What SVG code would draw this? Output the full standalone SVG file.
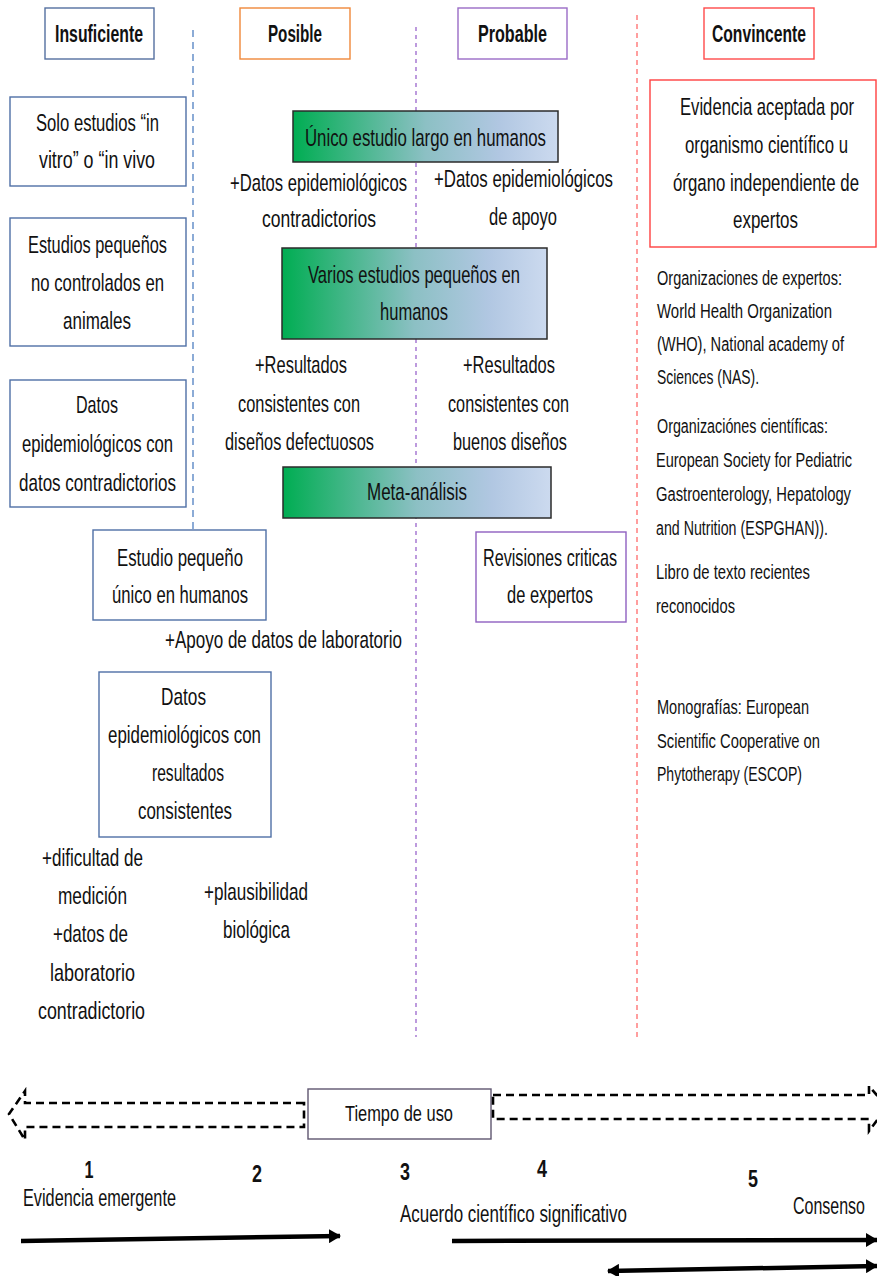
<svg xmlns="http://www.w3.org/2000/svg" width="877" height="1276" viewBox="0 0 877 1276">
<style>
text{font-family:"Liberation Sans",Arial,sans-serif;font-size:24px;fill:#111}
.h{font-weight:bold}
.s{font-size:21px}
.n{font-weight:bold;font-size:23px;text-anchor:middle}
.t{font-size:22px}
.box{fill:#fff;stroke-width:1.4}
.lb{stroke:#4f6fa6}
.grad{fill:url(#g);stroke:#2b2b2b;stroke-width:1.5}
.div{fill:none;stroke-width:1.3}
.blk{fill:none;stroke:#000;stroke-width:2.6;stroke-dasharray:8 5}
.arr{fill:none;stroke:#000;stroke-width:4.5}
</style>
<defs>
<linearGradient id="g" x1="0" y1="0" x2="1" y2="0">
<stop offset="0" stop-color="#00ad52"/>
<stop offset="0.5" stop-color="#8cc0c4"/>
<stop offset="0.78" stop-color="#b1c7e2"/>
<stop offset="1" stop-color="#ccdaef"/>
</linearGradient>
<marker id="ah" markerUnits="userSpaceOnUse" markerWidth="12" markerHeight="14" refX="11" refY="7" orient="auto-start-reverse">
<path d="M0,0 L12,7 L0,14 z" fill="#000"/>
</marker>
</defs>

<g id="dividers">
<line class="div" x1="193" y1="30" x2="193" y2="530" stroke="#4f7fc0" stroke-dasharray="7 5"/>
<line class="div" x1="416" y1="27" x2="416" y2="1037" stroke="#9a66cc" stroke-dasharray="4 4"/>
<line class="div" x1="637" y1="15" x2="637" y2="1040" stroke="#ff6b6b" stroke-dasharray="5 4"/>
</g>

<g id="hdr-insuficiente"><rect class="box" x="45" y="8" width="109" height="51" stroke="#5470a0"/><g transform="scale(0.7 1)"><text class="h" x="78.57" y="42" textLength="125.71" lengthAdjust="spacingAndGlyphs">Insuficiente</text></g></g>
<g id="hdr-posible"><rect class="box" x="240" y="8" width="110" height="51" stroke="#f0883a"/><g transform="scale(0.7 1)"><text class="h" x="382.86" y="42" textLength="77.14" lengthAdjust="spacingAndGlyphs">Posible</text></g></g>
<g id="hdr-probable"><rect class="box" x="458" y="8" width="109" height="51" stroke="#9a6cc6"/><g transform="scale(0.7 1)"><text class="h" x="682.86" y="42" textLength="98.57" lengthAdjust="spacingAndGlyphs">Probable</text></g></g>
<g id="hdr-convincente"><rect class="box" x="704" y="8" width="110" height="51" stroke="#ff4a4a"/><g transform="scale(0.7 1)"><text class="h" x="1017.14" y="42" textLength="134.29" lengthAdjust="spacingAndGlyphs">Convincente</text></g></g>

<g id="solo-estudios"><rect class="box lb" x="10" y="97" width="176" height="89"/><g transform="scale(0.7 1)">
<text x="51.43" y="131" textLength="175.71" lengthAdjust="spacingAndGlyphs">Solo estudios “in</text>
<text x="55.71" y="168" textLength="165.71" lengthAdjust="spacingAndGlyphs">vitro” o “in vivo</text></g></g>

<g id="estudios-pequenos"><rect class="box lb" x="10" y="218" width="176" height="128"/><g transform="scale(0.7 1)">
<text x="40" y="253" textLength="198.57" lengthAdjust="spacingAndGlyphs">Estudios pequeños</text>
<text x="44.29" y="291" textLength="190" lengthAdjust="spacingAndGlyphs">no controlados en</text>
<text x="90" y="329" textLength="97.14" lengthAdjust="spacingAndGlyphs">animales</text></g></g>

<g id="datos-contradictorios"><rect class="box lb" x="10" y="380" width="176" height="127"/><g transform="scale(0.7 1)">
<text x="108.57" y="413" textLength="60" lengthAdjust="spacingAndGlyphs">Datos</text>
<text x="31.43" y="452" textLength="215.71" lengthAdjust="spacingAndGlyphs">epidemiológicos con</text>
<text x="27.14" y="491" textLength="224.29" lengthAdjust="spacingAndGlyphs">datos contradictorios</text></g></g>

<g id="estudio-unico"><rect class="box lb" x="93" y="530" width="173" height="90"/><g transform="scale(0.7 1)">
<text x="167.14" y="566" textLength="180" lengthAdjust="spacingAndGlyphs">Estudio pequeño</text>
<text x="160" y="603" textLength="194.29" lengthAdjust="spacingAndGlyphs">único en humanos</text></g></g>

<g id="apoyo-lab"><g transform="scale(0.7 1)"><text x="235.71" y="648" textLength="338.57" lengthAdjust="spacingAndGlyphs">+Apoyo de datos de laboratorio</text></g></g>

<g id="datos-consistentes"><rect class="box lb" x="99" y="672" width="172" height="165"/><g transform="scale(0.7 1)">
<text x="230" y="705" textLength="64.29" lengthAdjust="spacingAndGlyphs">Datos</text>
<text x="154.29" y="743" textLength="218.57" lengthAdjust="spacingAndGlyphs">epidemiológicos con</text>
<text x="217.14" y="781" textLength="102.86" lengthAdjust="spacingAndGlyphs">resultados</text>
<text x="197.14" y="819" textLength="134.29" lengthAdjust="spacingAndGlyphs">consistentes</text></g></g>

<g id="dificultad"><g transform="scale(0.7 1)">
<text x="60" y="866" textLength="144.29" lengthAdjust="spacingAndGlyphs">+dificultad de</text>
<text x="82.86" y="904" textLength="98.57" lengthAdjust="spacingAndGlyphs">medición</text>
<text x="75.71" y="942" textLength="107.14" lengthAdjust="spacingAndGlyphs">+datos de</text>
<text x="71.43" y="981" textLength="121.43" lengthAdjust="spacingAndGlyphs">laboratorio</text>
<text x="54.29" y="1019" textLength="152.86" lengthAdjust="spacingAndGlyphs">contradictorio</text></g></g>

<g id="plausibilidad"><g transform="scale(0.7 1)">
<text x="291.43" y="900" textLength="148.57" lengthAdjust="spacingAndGlyphs">+plausibilidad</text>
<text x="318.57" y="938" textLength="95.71" lengthAdjust="spacingAndGlyphs">biológica</text></g></g>

<g id="unico-largo"><rect class="grad" x="293" y="111" width="265" height="51"/><g transform="scale(0.7 1)">
<text x="435.71" y="146" textLength="344.29" lengthAdjust="spacingAndGlyphs">Único estudio largo en humanos</text></g></g>

<g id="datos-contra-posible"><g transform="scale(0.7 1)">
<text x="328.57" y="191" textLength="252.86" lengthAdjust="spacingAndGlyphs">+Datos epidemiológicos</text>
<text x="374.29" y="227" textLength="162.86" lengthAdjust="spacingAndGlyphs">contradictorios</text></g></g>

<g id="datos-apoyo"><g transform="scale(0.7 1)">
<text x="620" y="187" textLength="255.71" lengthAdjust="spacingAndGlyphs">+Datos epidemiológicos</text>
<text x="698.57" y="225" textLength="97.14" lengthAdjust="spacingAndGlyphs">de apoyo</text></g></g>

<g id="varios-estudios"><rect class="grad" x="282" y="248" width="265" height="91"/><g transform="scale(0.7 1)">
<text x="440" y="283" textLength="302.86" lengthAdjust="spacingAndGlyphs">Varios estudios pequeños en</text>
<text x="542.86" y="320" textLength="97.14" lengthAdjust="spacingAndGlyphs">humanos</text></g></g>

<g id="resultados-defectuosos"><g transform="scale(0.7 1)">
<text x="364.29" y="373" textLength="131.43" lengthAdjust="spacingAndGlyphs">+Resultados</text>
<text x="340" y="412" textLength="174.29" lengthAdjust="spacingAndGlyphs">consistentes con</text>
<text x="321.43" y="450" textLength="212.86" lengthAdjust="spacingAndGlyphs">diseños defectuosos</text></g></g>

<g id="resultados-buenos"><g transform="scale(0.7 1)">
<text x="661.43" y="373" textLength="131.43" lengthAdjust="spacingAndGlyphs">+Resultados</text>
<text x="640" y="412" textLength="172.86" lengthAdjust="spacingAndGlyphs">consistentes con</text>
<text x="647.14" y="450" textLength="162.86" lengthAdjust="spacingAndGlyphs">buenos diseños</text></g></g>

<g id="meta-analisis"><rect class="grad" x="283" y="467" width="268" height="51"/><g transform="scale(0.7 1)">
<text x="524.29" y="500" textLength="142.86" lengthAdjust="spacingAndGlyphs">Meta-análisis</text></g></g>

<g id="revisiones"><rect class="box" x="476" y="532" width="150" height="90" stroke="#8f60c0"/><g transform="scale(0.7 1)">
<text x="690" y="566" textLength="191.43" lengthAdjust="spacingAndGlyphs">Revisiones criticas</text>
<text x="724.29" y="603" textLength="122.86" lengthAdjust="spacingAndGlyphs">de expertos</text></g></g>

<g id="evidencia-aceptada"><rect class="box" x="650" y="80" width="226" height="167" stroke="#ff4040"/><g transform="scale(0.7 1)">
<text x="971.43" y="115" textLength="248.57" lengthAdjust="spacingAndGlyphs">Evidencia aceptada por</text>
<text x="978.57" y="153" textLength="232.86" lengthAdjust="spacingAndGlyphs">organismo científico u</text>
<text x="961.43" y="191" textLength="265.71" lengthAdjust="spacingAndGlyphs">órgano independiente de</text>
<text x="1047.14" y="228" textLength="92.86" lengthAdjust="spacingAndGlyphs">expertos</text></g></g>

<g id="org-expertos"><g transform="scale(0.7 1)">
<text class="s" x="938.57" y="285" textLength="264.29" lengthAdjust="spacingAndGlyphs">Organizaciones de expertos:</text>
<text class="s" x="938.57" y="318" textLength="250" lengthAdjust="spacingAndGlyphs">World Health Organization</text>
<text class="s" x="938.57" y="351" textLength="267.14" lengthAdjust="spacingAndGlyphs">(WHO), National academy of</text>
<text class="s" x="938.57" y="384" textLength="145.71" lengthAdjust="spacingAndGlyphs">Sciences (NAS).</text></g></g>

<g id="org-cientificas"><g transform="scale(0.7 1)">
<text class="s" x="938.57" y="433" textLength="244.29" lengthAdjust="spacingAndGlyphs">Organizaciónes científicas:</text>
<text class="s" x="937.14" y="467" textLength="280" lengthAdjust="spacingAndGlyphs">European Society for Pediatric</text>
<text class="s" x="937.14" y="501" textLength="278.57" lengthAdjust="spacingAndGlyphs">Gastroenterology,  Hepatology</text>
<text class="s" x="937.14" y="535" textLength="245.71" lengthAdjust="spacingAndGlyphs">and Nutrition (ESPGHAN)).</text></g></g>

<g id="libros"><g transform="scale(0.7 1)">
<text class="s" x="937.14" y="579" textLength="220" lengthAdjust="spacingAndGlyphs">Libro de texto recientes</text>
<text class="s" x="937.14" y="613" textLength="112.86" lengthAdjust="spacingAndGlyphs">reconocidos</text></g></g>

<g id="monografias"><g transform="scale(0.7 1)">
<text class="s" x="938.57" y="714" textLength="217.14" lengthAdjust="spacingAndGlyphs">Monografías: European</text>
<text class="s" x="938.57" y="748" textLength="232.86" lengthAdjust="spacingAndGlyphs">Scientific Cooperative  on</text>
<text class="s" x="938.57" y="781" textLength="207.14" lengthAdjust="spacingAndGlyphs">Phytotherapy (ESCOP)</text></g></g>

<g id="tiempo-de-uso"><rect class="box" x="308" y="1089" width="183" height="50" stroke="#5f5670"/><g transform="scale(0.7 1)">
<text class="t" x="492.86" y="1121" textLength="154.29" lengthAdjust="spacingAndGlyphs">Tiempo de uso</text></g></g>

<g id="scale"><g transform="scale(0.7 1)">
<text class="n" x="127.14" y="1178" textLength="12.86" lengthAdjust="spacingAndGlyphs">1</text>
<text class="n" x="367.14" y="1182" textLength="14.29" lengthAdjust="spacingAndGlyphs">2</text>
<text class="n" x="578.57" y="1180" textLength="14.29" lengthAdjust="spacingAndGlyphs">3</text>
<text class="n" x="774.29" y="1177" textLength="14.29" lengthAdjust="spacingAndGlyphs">4</text>
<text class="n" x="1075.71" y="1187" textLength="14.29" lengthAdjust="spacingAndGlyphs">5</text>
<text x="32.86" y="1206" textLength="218.57" lengthAdjust="spacingAndGlyphs">Evidencia emergente</text>
<text x="571.43" y="1222" textLength="324.29" lengthAdjust="spacingAndGlyphs">Acuerdo científico significativo</text>
<text x="1132.86" y="1214" textLength="102.86" lengthAdjust="spacingAndGlyphs">Consenso</text>
</g></g>

<g id="connectors">
<polygon class="blk" points="304,1103 25,1103 25,1091 9,1114 25,1140 25,1127 304,1127"/>
<polygon class="blk" points="493,1095 869,1095 869,1086 887,1107 869,1131 869,1119 493,1119"/>
<line class="arr" x1="21" y1="1241" x2="340" y2="1236" marker-end="url(#ah)"/>
<line class="arr" x1="452" y1="1241" x2="877" y2="1240" marker-end="url(#ah)"/>
<line class="arr" x1="608" y1="1271" x2="877" y2="1266" marker-start="url(#ah)" marker-end="url(#ah)"/>
</g>
</svg>
